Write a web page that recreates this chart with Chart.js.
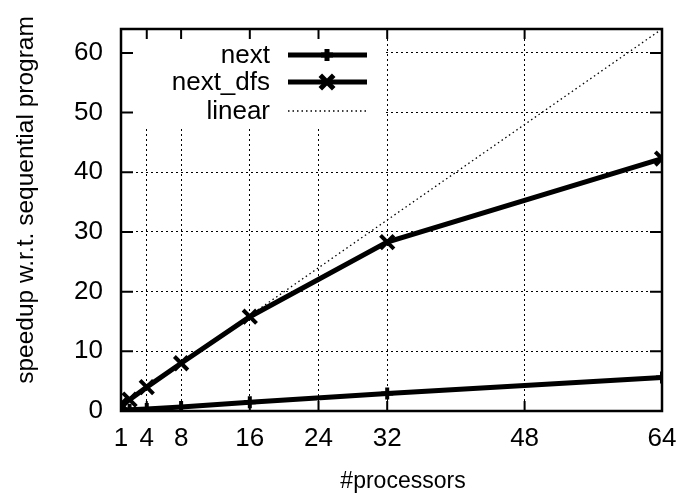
<!DOCTYPE html>
<html>
<head>
<meta charset="utf-8">
<script src="https://cdn.jsdelivr.net/npm/chart.js@4"></script>
<style>
  html, body { margin: 0; padding: 0; background: #fff; }
  #wrap { width: 682px; height: 498px; }
</style>
</head>
<body>
<div id="wrap"><canvas id="speedupChart" width="682" height="498"></canvas></div>
<script>
// processors on the x axis
var procs = [1, 2, 4, 8, 16, 32, 64];
// speedup values
var nextSpeedup = [0.1, 0.2, 0.35, 0.65, 1.45, 2.95, 5.6];
var nextDfsSpeedup = [1.1, 1.9, 4.0, 8.0, 15.8, 28.3, 42.3];
var linearSpeedup = [1, 2, 4, 8, 16, 32, 64];
// tick labels
var xTicks = [1, 4, 8, 16, 24, 32, 48, 64];
var yTicks = [0, 10, 20, 30, 40, 50, 60];
var legendLabels = ['next', 'next_dfs', 'linear'];
var xTitle = '#processors';
var yTitle = 'speedup w.r.t. sequential program';

function pts(ys) {
  return procs.map(function(x, i) { return { x: x, y: ys[i] }; });
}

var FONT = 'Liberation Sans, Arial, Helvetica, sans-serif';

// gnuplot style frame, inward ticks, axis labels and the key
var gnuplotFrame = {
  id: 'gnuplotFrame',
  beforeDatasetsDraw: function(chart) {
    var a = chart.chartArea, ctx = chart.ctx;
    ctx.save();
    ctx.fillStyle = '#fff';
    ctx.fillRect(a.left + 2, a.top + 2, 381 - a.left, 124 - a.top);
    ctx.restore();
  },
  afterDraw: function(chart) {
    var a = chart.chartArea, ctx = chart.ctx;
    var xs = chart.scales.x, ys = chart.scales.y;
    ctx.save();
    ctx.strokeStyle = '#000';
    ctx.lineWidth = 2;
    ctx.beginPath();
    xTicks.forEach(function(v) {
      var px = xs.getPixelForValue(v);
      ctx.moveTo(px, a.bottom); ctx.lineTo(px, a.bottom - 10);
      ctx.moveTo(px, a.top); ctx.lineTo(px, a.top + 10);
    });
    yTicks.forEach(function(v) {
      var py = ys.getPixelForValue(v);
      ctx.moveTo(a.left, py); ctx.lineTo(a.left + 12, py);
      ctx.moveTo(a.right, py); ctx.lineTo(a.right - 12, py);
    });
    ctx.stroke();
    ctx.lineWidth = 2.5;
    ctx.strokeRect(a.left, a.top, a.right - a.left, a.bottom - a.top);

    // axis titles
    ctx.fillStyle = '#000';
    ctx.textAlign = 'center';
    ctx.textBaseline = 'middle';
    ctx.font = '23px ' + FONT;
    ctx.fillText(xTitle, 403, 482);
    ctx.save();
    ctx.translate(26, 200);
    ctx.rotate(-Math.PI / 2);
    ctx.font = '24.5px ' + FONT;
    ctx.fillText(yTitle, 0, 0);
    ctx.restore();

    // key
    var rows = [55, 82, 111];
    ctx.font = '26px ' + FONT;
    ctx.textAlign = 'right';
    chart.data.datasets.forEach(function(ds, i) {
      var y = rows[i];
      ctx.fillText(legendLabels[i], 270, y + 1);
      ctx.strokeStyle = '#000';
      ctx.lineWidth = ds.borderWidth;
      ctx.setLineDash(ds.borderDash || []);
      ctx.beginPath();
      ctx.moveTo(288, y); ctx.lineTo(367, y);
      ctx.stroke();
      ctx.setLineDash([]);
      if (ds.pointRadius > 0) {
        Chart.helpers.drawPoint(ctx, {
          pointStyle: ds.pointStyle, radius: ds.pointRadius,
          borderWidth: ds.pointBorderWidth, rotation: 0
        }, 327, y);
      }
    });
    ctx.restore();
  }
};

new Chart(document.getElementById('speedupChart'), {
  type: 'line',
  data: {
    datasets: [{
      label: legendLabels[0],
      data: pts(nextSpeedup),
      borderColor: '#000',
      backgroundColor: '#000',
      borderWidth: 5,
      pointStyle: 'cross',
      pointRadius: 6,
      pointBorderWidth: 4,
      pointBorderColor: '#000'
    }, {
      label: legendLabels[1],
      data: pts(nextDfsSpeedup),
      borderColor: '#000',
      backgroundColor: '#000',
      borderWidth: 5,
      pointStyle: 'crossRot',
      pointRadius: 9.5,
      pointBorderWidth: 4,
      pointBorderColor: '#000'
    }, {
      label: legendLabels[2],
      data: pts(linearSpeedup),
      borderColor: '#000',
      borderWidth: 1.3,
      borderDash: [1.5, 3],
      pointRadius: 0
    }]
  },
  options: {
    responsive: false,
    animation: false,
    layout: { padding: { top: 29, right: 20, left: 0, bottom: 0 } },
    plugins: { legend: { display: false }, tooltip: { enabled: false } },
    scales: {
      x: {
        type: 'linear',
        min: 1, max: 64,
        afterBuildTicks: function(s) { s.ticks = xTicks.map(function(v) { return { value: v }; }); },
        afterFit: function(s) { s.height = 87; s.paddingLeft = 0; s.paddingRight = 0; },
        grid: { color: '#000', lineWidth: 1, drawTicks: false },
        border: { display: false, dash: [2, 3] },
        ticks: { color: '#000', font: { family: FONT, size: 26 }, padding: 12, maxRotation: 0, autoSkip: false }
      },
      y: {
        min: 0, max: 64,
        afterBuildTicks: function(s) { s.ticks = yTicks.map(function(v) { return { value: v }; }); },
        afterFit: function(s) { s.width = 121; s.paddingTop = 0; s.paddingBottom = 0; },
        grid: { color: '#000', lineWidth: 1, drawTicks: false },
        border: { display: false, dash: [2, 3] },
        ticks: { color: '#000', font: { family: FONT, size: 26 }, padding: 18 }
      }
    }
  },
  plugins: [gnuplotFrame]
});
</script>
</body>
</html>
